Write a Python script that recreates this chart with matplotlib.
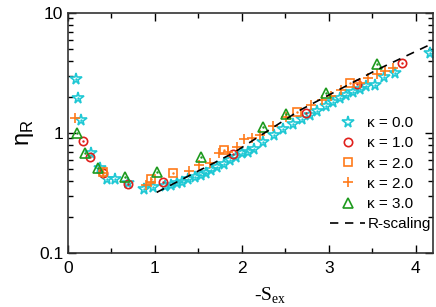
import matplotlib
matplotlib.use("Agg")
import matplotlib.pyplot as plt
from matplotlib.ticker import MultipleLocator, LogLocator, NullFormatter, FixedLocator, FixedFormatter

# kappa = 0.0 (stars)
k0_x = [0.09, 0.11, 0.15, 0.26, 0.37, 0.45, 0.54, 0.69, 0.87, 0.98, 1.12, 1.19, 1.25, 1.31,
        1.38, 1.46, 1.53, 1.59, 1.65, 1.71, 1.79, 1.86, 1.93, 2.0, 2.07, 2.14, 2.24, 2.37,
        2.47, 2.59, 2.69, 2.78, 2.86, 2.97, 3.05, 3.13, 3.2, 3.28, 3.36, 3.43, 3.53, 3.64,
        3.76, 4.17]
k0_y = [2.8, 1.97, 1.28, 0.685, 0.51, 0.41, 0.41, 0.38, 0.34, 0.355, 0.36, 0.37, 0.38, 0.39,
        0.41, 0.43, 0.45, 0.467, 0.49, 0.52, 0.55, 0.59, 0.63, 0.68, 0.7, 0.73, 0.84, 0.96,
        1.08, 1.19, 1.31, 1.41, 1.52, 1.68, 1.81, 1.95, 2.07, 2.2, 2.33, 2.46, 2.51, 2.93,
        3.18, 4.6]

# kappa = 1.0 (circles)
k1_x = [0.17, 0.25, 0.4, 0.69, 1.09, 1.9, 2.74, 3.33, 3.84]
k1_y = [0.86, 0.63, 0.46, 0.375, 0.39, 0.67, 1.47, 2.56, 3.85]

# kappa = 2.0 (squares)
k2a_x = [0.4, 0.95, 1.21, 1.8, 2.63, 3.24]
k2a_y = [0.47, 0.41, 0.46, 0.72, 1.5, 2.6]

# kappa = 2.0 (plus)
k2b_x = [0.08, 0.4, 0.9, 0.95, 1.39, 1.51, 1.63, 1.74, 1.84, 1.94, 2.02, 2.12, 2.21, 2.36,
         2.51, 2.8, 2.92, 3.03, 3.14, 3.36, 3.45, 3.55, 3.65, 3.74]
k2b_y = [1.33, 0.46, 0.37, 0.39, 0.48, 0.54, 0.56, 0.68, 0.7, 0.76, 0.89, 0.91, 0.96, 1.14,
         1.36, 1.71, 1.88, 2.03, 2.28, 2.6, 2.87, 3.1, 3.3, 3.5]

# kappa = 3.0 (triangles)
k3_x = [0.1, 0.2, 0.34, 0.66, 1.02, 1.53, 2.24, 2.51, 2.97, 3.56]
k3_y = [1.0, 0.68, 0.51, 0.43, 0.47, 0.63, 1.12, 1.44, 2.15, 3.76]

# R-scaling guide line
r_x = [1.02, 1.9, 2.67, 3.55, 4.2]
r_y = [0.32, 0.68, 1.55, 3.35, 5.6]

cyan = "#1fc8d4"
red = "#e0201c"
orange = "#ff7a1a"
green = "#1e9a1e"

plt.rcParams["font.family"] = ["Liberation Sans", "DejaVu Sans"]
fig = plt.figure(figsize=(4.36, 3.07), dpi=100)
ax = fig.add_axes([68 / 436, 1 - 253 / 307, (433 - 68) / 436, (253 - 13) / 307])


def series(x, y, marker, color, size, label, dot=True):
    ax.plot(x, y, linestyle="none", marker=marker, markersize=size, markerfacecolor="none",
            markeredgecolor=color, markeredgewidth=1.2, label=label)
    if dot:
        ax.plot(x, y, linestyle="none", marker=".", markersize=1.5, color=color)


series(k0_x, k0_y, "*", cyan, 8.5, "\u03ba = 0.0")
series(k1_x, k1_y, "o", red, 6, "\u03ba = 1.0")
series(k2a_x, k2a_y, "s", orange, 5.5, "\u03ba = 2.0")
series(k2b_x, k2b_y, "+", orange, 7.5, "\u03ba = 2.0", dot=False)
series(k3_x, k3_y, "^", green, 7, "\u03ba = 3.0")
ax.plot(r_x, r_y, color="black", linestyle=(0, (5, 4)), linewidth=1.2, label="R-scaling")

ax.set_yscale("log")
ax.set_xlim(0, 4.2)
ax.set_ylim(0.1, 10)
ax.xaxis.set_major_locator(MultipleLocator(1))
ax.xaxis.set_minor_locator(MultipleLocator(0.5))
ax.yaxis.set_major_locator(FixedLocator([0.1, 1, 10]))
ax.yaxis.set_major_formatter(FixedFormatter(["0.1", "1", "10"]))
ax.yaxis.set_minor_locator(LogLocator(base=10, subs=range(2, 10)))
ax.yaxis.set_minor_formatter(NullFormatter())
ax.tick_params(which="both", direction="in", top=True, right=True, labelsize=12.5)
ax.tick_params(which="major", length=6, width=1)
ax.tick_params(which="minor", length=3.5, width=1)
ax.tick_params(axis="x", pad=6)
for s in ax.spines.values():
    s.set_linewidth(1.2)
    s.set_color("#333333")

ax.set_xlabel("-S$_{\\mathregular{ex}}$", family="Liberation Serif", fontsize=14)
ax.xaxis.set_label_coords(0.553, -0.135)
ax.set_ylabel("\u03b7$_{\\mathregular{R}}$", fontsize=17, labelpad=2)

ax.legend(loc="upper left", bbox_to_anchor=(330 / 436, 1 - 116 / 307),
          bbox_transform=fig.transFigure, frameon=False, fontsize=11,
          handlelength=2.3, handletextpad=0.15, labelspacing=0.41,
          borderpad=0.0, borderaxespad=0.0)

fig.savefig("out.png", dpi=100)
